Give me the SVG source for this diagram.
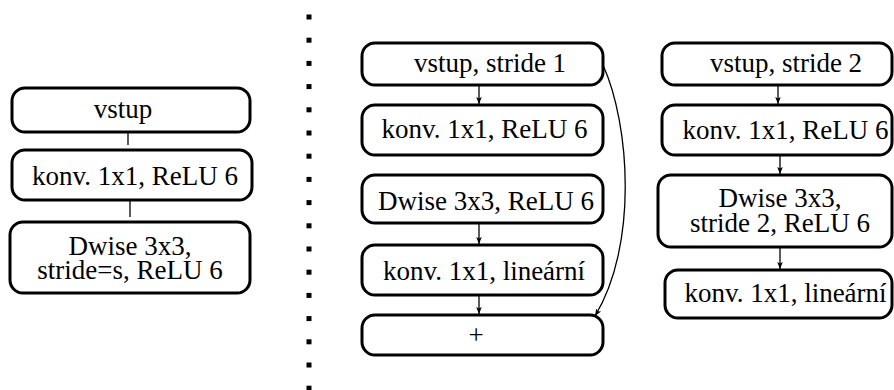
<svg xmlns="http://www.w3.org/2000/svg" width="894" height="390" viewBox="0 0 894 390">
  <defs>
    <style>
      .box { fill: #ffffff; stroke: #000000; stroke-width: 3; }
      .lbl { font-family: "Liberation Serif", "Times New Roman", serif; font-size: 27px; fill: #000000; text-anchor: middle; }
      .edge { fill: none; stroke: #000000; stroke-width: 1.3; }
      .arr { marker-end: url(#head); }
      .dot { fill: #000000; }
    </style>
    <marker id="head" markerUnits="userSpaceOnUse" markerWidth="8" markerHeight="8" viewBox="0 0 8 8" refX="7" refY="4" orient="auto">
      <path d="M0,1.2 L7,4 L0,6.8 L1.5,4 Z" fill="#000000"/>
    </marker>
  </defs>

  <!-- separator -->
  <g id="separator">
    <rect class="dot" x="306.5" y="14.5" width="5" height="5"/>
    <rect class="dot" x="306.5" y="37.7" width="5" height="5"/>
    <rect class="dot" x="306.5" y="60.9" width="5" height="5"/>
    <rect class="dot" x="306.5" y="84.1" width="5" height="5"/>
    <rect class="dot" x="306.5" y="107.3" width="5" height="5"/>
    <rect class="dot" x="306.5" y="130.5" width="5" height="5"/>
    <rect class="dot" x="306.5" y="153.7" width="5" height="5"/>
    <rect class="dot" x="306.5" y="176.9" width="5" height="5"/>
    <rect class="dot" x="306.5" y="200.1" width="5" height="5"/>
    <rect class="dot" x="306.5" y="223.3" width="5" height="5"/>
    <rect class="dot" x="306.5" y="246.5" width="5" height="5"/>
    <rect class="dot" x="306.5" y="269.7" width="5" height="5"/>
    <rect class="dot" x="306.5" y="292.9" width="5" height="5"/>
    <rect class="dot" x="306.5" y="316.1" width="5" height="5"/>
    <rect class="dot" x="306.5" y="339.3" width="5" height="5"/>
    <rect class="dot" x="306.5" y="362.5" width="5" height="5"/>
    <rect class="dot" x="306.5" y="385.7" width="5" height="5"/>
  </g>

  <!-- connectors -->
  <g id="connectors">
    <line class="edge" x1="128" y1="132" x2="128" y2="145"/>
    <line class="edge" x1="130" y1="200" x2="130" y2="217"/>

    <line class="edge arr" x1="479" y1="85" x2="479" y2="104"/>
    <line class="edge arr" x1="479" y1="223" x2="479" y2="244"/>
    <line class="edge arr" x1="479" y1="295" x2="479" y2="314"/>
    <path class="edge arr" d="M603,65 C630,125 638,245 595,316"/>

    <line class="edge arr" x1="778" y1="85" x2="778" y2="104"/>
    <line class="edge arr" x1="780" y1="155" x2="780" y2="174"/>
    <line class="edge arr" x1="780" y1="247" x2="780" y2="269"/>
  </g>

  <!-- block with stride s -->
  <g id="l-input">
    <rect class="box" x="12" y="88" width="238" height="44" rx="13"/>
    <text class="lbl" x="123" y="118">vstup</text>
  </g>
  <g id="l-conv">
    <rect class="box" x="12" y="150" width="240" height="50" rx="13"/>
    <text class="lbl" x="135" y="185">konv. 1x1, ReLU 6</text>
  </g>
  <g id="l-dwise">
    <rect class="box" x="10" y="222" width="240" height="71" rx="13"/>
    <text class="lbl" x="130" y="255">Dwise 3x3,</text>
    <text class="lbl" x="130" y="279">stride=s, ReLU 6</text>
  </g>

  <!-- stride 1 block -->
  <g id="m-input">
    <rect class="box" x="362" y="43" width="241" height="42" rx="13"/>
    <text class="lbl" x="490" y="72">vstup, stride 1</text>
  </g>
  <g id="m-conv">
    <rect class="box" x="362" y="105" width="241" height="50" rx="13"/>
    <text class="lbl" x="484.5" y="138">konv. 1x1, ReLU 6</text>
  </g>
  <g id="m-dwise">
    <rect class="box" x="362" y="175" width="241" height="48" rx="13"/>
    <text class="lbl" x="486" y="210">Dwise 3x3, ReLU 6</text>
  </g>
  <g id="m-linear">
    <rect class="box" x="362" y="245" width="241" height="50" rx="13"/>
    <text class="lbl" x="484" y="280">konv. 1x1, lineární</text>
  </g>
  <g id="m-add">
    <rect class="box" x="362" y="315" width="241" height="40" rx="13"/>
    <text class="lbl" x="476" y="344">+</text>
  </g>

  <!-- stride 2 block -->
  <g id="r-input">
    <rect class="box" x="662" y="43" width="230" height="42" rx="13"/>
    <text class="lbl" x="786" y="72">vstup, stride 2</text>
  </g>
  <g id="r-conv">
    <rect class="box" x="662" y="105" width="230" height="50" rx="13"/>
    <text class="lbl" x="785.5" y="139">konv. 1x1, ReLU 6</text>
  </g>
  <g id="r-dwise">
    <rect class="box" x="658" y="175" width="234" height="72" rx="13"/>
    <text class="lbl" x="780" y="207">Dwise 3x3,</text>
    <text class="lbl" x="780" y="232">stride 2, ReLU 6</text>
  </g>
  <g id="r-linear">
    <rect class="box" x="665" y="270" width="227" height="48" rx="13"/>
    <text class="lbl" x="785.5" y="302">konv. 1x1, lineární</text>
  </g>
</svg>
